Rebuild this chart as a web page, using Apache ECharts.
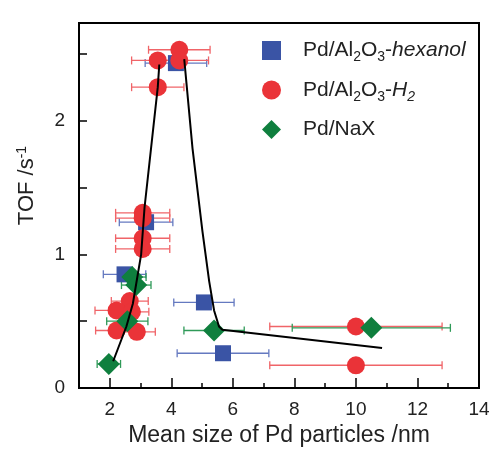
<!DOCTYPE html>
<html>
<head>
<meta charset="utf-8">
<title>TOF vs Pd particle size</title>
<script src="https://cdn.jsdelivr.net/npm/echarts@6/dist/echarts.min.js"></script>
<style>
  * { margin: 0; padding: 0; }
  html, body { background: #fff; }
  #main { width: 495px; height: 452px; }
</style>
</head>
<body>
<div id="main"></div>
<script>
// Pd/Al2O3-hexanol : x (nm), TOF (s-1), +/- error on size
const hexX   = [4.15, 3.18, 2.48, 5.06, 5.68];
const hexY   = [2.43, 1.24, 0.85, 0.64, 0.26];
const hexErr = [1.00, 0.87, 0.69, 0.98, 1.49];

// Pd/Al2O3-H2
const h2X   = [4.26, 4.26, 3.56, 3.56, 3.07, 3.07, 3.07, 3.07, 2.65, 2.22, 2.72, 2.22, 2.88, 10.0, 10.0];
const h2Y   = [2.53, 2.45, 2.45, 2.25, 1.31, 1.27, 1.12, 1.04, 0.65, 0.58, 0.57, 0.43, 0.42, 0.46, 0.17];
const h2Err = [1.00, 0.95, 0.85, 0.85, 0.88, 0.88, 0.88, 0.88, 0.60, 0.70, 0.55, 0.68, 0.60, 2.80, 2.80];

// Pd/NaX
const naxX   = [2.73, 2.86, 2.57, 1.97, 5.39, 10.5];
const naxY   = [0.83, 0.77, 0.50, 0.18, 0.43, 0.45];
const naxErr = [0.45, 0.48, 0.67, 0.38, 0.98, 2.57];

// guide line, drawn as two branches
const leftX  = [2.11, 2.54, 2.75, 3.02, 3.13, 3.56, 3.61];
const leftY  = [0.20, 0.46, 0.63, 1.00, 1.35, 2.25, 2.42];
const rightX = [4.42, 4.69, 5.01, 5.23, 5.39, 5.55, 5.66, 10.85];
const rightY = [2.46, 1.79, 1.175, 0.80, 0.58, 0.46, 0.435, 0.30];

const xLabels = [2, 4, 6, 8, 10, 12, 14];
const xMinor  = [3, 5, 7, 9, 11, 13];
const yLabels = [0, 1, 2];
const yTicks  = [0.5, 1, 1.5, 2, 2.5];

const BLUE = '#3a54a5', RED = '#ea3338', GREEN = '#0f7f3e';
const FONT = 'Liberation Sans';

function pts(xs, ys) { return xs.map((x, i) => [x, ys[i]]); }
function errData(xs, ys, es) { return xs.map((x, i) => [x - es[i], x + es[i], ys[i]]); }

// horizontal error bar with end caps
function errSeries(name, xs, ys, es, color) {
    return {
        type: 'custom',
        name: name + '_err',
        data: errData(xs, ys, es),
        z: 1,
        silent: true,
        renderItem: function (params, api) {
            const p1 = api.coord([api.value(0), api.value(2)]);
            const p2 = api.coord([api.value(1), api.value(2)]);
            const c = 4;
            const st = { stroke: color, lineWidth: 1.3 };
            return {
                type: 'group',
                children: [
                    { type: 'line', shape: { x1: p1[0], y1: p1[1], x2: p2[0], y2: p2[1] }, style: st },
                    { type: 'line', shape: { x1: p1[0], y1: p1[1] - c, x2: p1[0], y2: p1[1] + c }, style: st },
                    { type: 'line', shape: { x1: p2[0], y1: p2[1] - c, x2: p2[0], y2: p2[1] + c }, style: st }
                ]
            };
        }
    };
}

function trendSeries(xs, ys) {
    return {
        type: 'line', data: pts(xs, ys),
        showSymbol: false, symbol: 'none', z: 5, silent: true,
        lineStyle: { color: '#000', width: 2 }
    };
}

const legendText = {
    hexanol: '{a|Pd/Al}{s|2}{a|O}{s|3}{a|-}{i|hexanol}',
    H2: '{a|Pd/Al}{s|2}{a|O}{s|3}{a|-}{i|H}{is|2}',
    NaX: '{a|Pd/NaX}'
};

const chart = echarts.init(document.getElementById('main'), null, { renderer: 'canvas' });

const option = {
    animation: false,
    grid: {
        left: 79, top: 23, right: 16, bottom: 60,
        show: true, borderColor: '#000', borderWidth: 2
    },
    legend: {
        orient: 'vertical',
        left: 257, top: 35,
        itemWidth: 19, itemHeight: 19,
        itemGap: 15,
        data: [
            { name: 'hexanol', icon: 'rect' },
            { name: 'H2', icon: 'circle' },
            { name: 'NaX', icon: 'diamond' }
        ],
        formatter: name => legendText[name],
        textStyle: {
            fontFamily: FONT,
            color: '#222',
            padding: [0, 0, 0, 17],
            rich: {
                a: { fontSize: 21, fontFamily: FONT, color: '#222' },
                i: { fontSize: 21, fontFamily: FONT, fontStyle: 'italic', color: '#222' },
                s: { fontSize: 14, fontFamily: FONT, color: '#222', padding: [14, 0, 0, 0] },
                is: { fontSize: 14, fontFamily: FONT, fontStyle: 'italic', color: '#222', padding: [14, 0, 0, 0] }
            }
        }
    },
    xAxis: [
        {
            type: 'value',
            min: 1, max: 14,
            name: 'Mean size of Pd particles /nm',
            nameLocation: 'middle',
            nameGap: 36,
            nameTextStyle: { fontFamily: FONT, fontSize: 23, color: '#222' },
            axisLine: { lineStyle: { color: '#000', width: 2 } },
            axisTick: { inside: true, length: 10, customValues: xLabels, lineStyle: { color: '#000', width: 1.5 } },
            axisLabel: { customValues: xLabels, margin: 12, fontFamily: FONT, fontSize: 19, color: '#222' },
            splitLine: { show: false }
        },
        {
            // short ticks at odd sizes
            type: 'value',
            min: 1, max: 14,
            position: 'bottom',
            axisLine: { show: false },
            axisTick: { inside: true, length: 5, customValues: xMinor, lineStyle: { color: '#000', width: 1.5 } },
            axisLabel: { show: false },
            splitLine: { show: false }
        }
    ],
    yAxis: {
        type: 'value',
        min: 0, max: 2.73,
        name: '{a|TOF /s}{sup|-1}',
        nameLocation: 'middle',
        nameRotate: 90,
        nameGap: 40,
        nameTextStyle: {
            padding: [0, 0, 0, 40],
            rich: {
                a: { fontFamily: FONT, fontSize: 22, color: '#222' },
                sup: { fontFamily: FONT, fontSize: 14, color: '#222', padding: [0, 0, 10, 0] }
            }
        },
        axisLine: { lineStyle: { color: '#000', width: 2 } },
        axisTick: { inside: true, length: 8, customValues: yTicks, lineStyle: { color: '#000', width: 1.5 } },
        axisLabel: { customValues: yLabels, margin: 14, fontFamily: FONT, fontSize: 19, color: '#222' },
        splitLine: { show: false }
    },
    series: [
        errSeries('hexanol', hexX, hexY, hexErr, '#6479c0'),
        errSeries('H2', h2X, h2Y, h2Err, '#f06468'),
        errSeries('NaX', naxX, naxY, naxErr, '#2f9a58'),
        {
            type: 'scatter', name: 'hexanol', symbol: 'rect', symbolSize: 16,
            data: pts(hexX, hexY), itemStyle: { color: BLUE, opacity: 1 }, z: 2
        },
        {
            type: 'scatter', name: 'H2', symbol: 'circle', symbolSize: 18,
            data: pts(h2X, h2Y), itemStyle: { color: RED, opacity: 1 }, z: 3
        },
        {
            type: 'scatter', name: 'NaX', symbol: 'diamond', symbolSize: 22,
            data: pts(naxX, naxY), itemStyle: { color: GREEN, opacity: 1 }, z: 4
        },
        trendSeries(leftX, leftY),
        trendSeries(rightX, rightY)
    ]
};

chart.setOption(option);
window.addEventListener('resize', () => chart.resize());
</script>
</body>
</html>
